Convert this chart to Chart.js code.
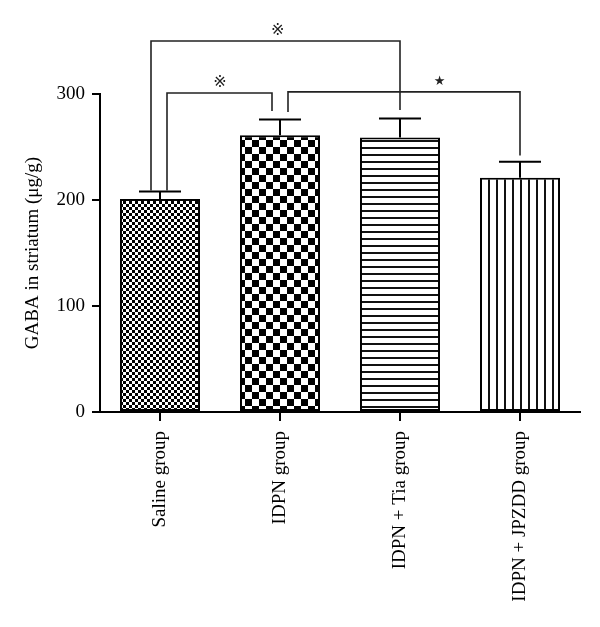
<!DOCTYPE html>
<html>
<head>
<meta charset="utf-8">
<script src="https://cdn.jsdelivr.net/npm/chart.js@4.4.1/dist/chart.umd.min.js"></script>
<style>
  body { margin: 0; background: #fff; }
  #wrap { width: 600px; height: 627px; position: relative; }
</style>
</head>
<body>
<div id="wrap"><canvas id="gabaChart"></canvas></div>
<script>
// data
const groups = ['Saline group', 'IDPN group', 'IDPN + Tia group', 'IDPN + JPZDD group'];
const gabaMean = [201, 261, 259, 221];
const gabaSem = [7, 15, 18, 15];
const yTicks = [0, 100, 200, 300];

// significance brackets: category indexes, top level, leg bottoms, mark
const bracketFrom = [0, 0, 1];
const bracketTo = [2, 1, 3];
const bracketTop = [350, 301, 302];
const bracketLegFrom = [209, 209, 283];
const bracketLegTo = [285, 284, 242];
const bracketMark = ['※', '※', '★'];
const bracketMarkAt = [0.98, 0.5, 2.33];

// pattern fills
function makePattern(kind) {
    const c = document.createElement('canvas');
    const g = c.getContext('2d');
    if (kind === 'fine') {
        c.width = 6; c.height = 6;
        g.fillStyle = '#fff'; g.fillRect(0, 0, 6, 6);
        g.fillStyle = '#000';
        g.fillRect(0, 0, 3, 3); g.fillRect(3, 3, 3, 3);
    } else if (kind === 'coarse') {
        c.width = 14; c.height = 14;
        g.fillStyle = '#fff'; g.fillRect(0, 0, 14, 14);
        g.fillStyle = '#000';
        g.fillRect(0, 0, 7, 7); g.fillRect(7, 7, 7, 7);
    } else if (kind === 'hlines') {
        c.width = 4; c.height = 7;
        g.fillStyle = '#fff'; g.fillRect(0, 0, 4, 7);
        g.fillStyle = '#111'; g.fillRect(0, 0, 4, 2);
    } else {
        c.width = 8; c.height = 4;
        g.fillStyle = '#fff'; g.fillRect(0, 0, 8, 4);
        g.fillStyle = '#111'; g.fillRect(0, 0, 2, 4);
    }
    return g.createPattern(c, 'repeat');
}

// error bars + brackets
const annotate = {
    id: 'annotate',
    afterDatasetsDraw(chart) {
        const ctx = chart.ctx;
        const x = chart.scales.x;
        const y = chart.scales.y;
        ctx.save();
        ctx.strokeStyle = '#000';
        ctx.lineWidth = 2;
        gabaMean.forEach((m, i) => {
            const cx = x.getPixelForValue(i);
            const top = y.getPixelForValue(m);
            const cap = y.getPixelForValue(m + gabaSem[i]);
            ctx.beginPath();
            ctx.moveTo(cx, top);
            ctx.lineTo(cx, cap);
            ctx.moveTo(cx - 21, cap);
            ctx.lineTo(cx + 21, cap);
            // tick under the axis
            ctx.moveTo(cx, y.getPixelForValue(0));
            ctx.lineTo(cx, y.getPixelForValue(0) + 9);
            ctx.stroke();
        });

        const legShift = [[-9, 0], [7, -8], [8, 0]];
        ctx.lineWidth = 1.6;
        ctx.strokeStyle = '#222';
        ctx.fillStyle = '#222';
        ctx.textAlign = 'center';
        ctx.textBaseline = 'middle';
        bracketTop.forEach((lvl, i) => {
            const x1 = x.getPixelForValue(bracketFrom[i]) + legShift[i][0];
            const x2 = x.getPixelForValue(bracketTo[i]) + legShift[i][1];
            const yt = y.getPixelForValue(lvl);
            ctx.beginPath();
            ctx.moveTo(x1, y.getPixelForValue(bracketLegFrom[i]));
            ctx.lineTo(x1, yt);
            ctx.lineTo(x2, yt);
            ctx.lineTo(x2, y.getPixelForValue(bracketLegTo[i]));
            ctx.stroke();
            ctx.font = bracketMark[i] === '★' ? '13px "DejaVu Sans"' : '16px "DejaVu Sans", "Noto Sans CJK SC"';
            ctx.fillText(bracketMark[i], x.getPixelForValue(bracketMarkAt[i]), yt - 10);
        });
        ctx.restore();
    }
};

const serif = { family: '"Liberation Serif", "DejaVu Serif", serif', size: 19 };

new Chart(document.getElementById('gabaChart'), {
    type: 'bar',
    data: {
        labels: groups,
        datasets: [{
            data: gabaMean,
            backgroundColor: [makePattern('fine'), makePattern('coarse'), makePattern('hlines'), makePattern('vlines')],
            borderColor: '#000',
            borderWidth: 2,
            borderSkipped: false,
            barPercentage: 0.667,
            categoryPercentage: 1
        }]
    },
    options: {
        responsive: true,
        maintainAspectRatio: false,
        animation: false,
        layout: { padding: { top: 94, right: 20, left: 0, bottom: 0 } },
        plugins: { legend: { display: false }, tooltip: { enabled: false } },
        scales: {
            x: {
                afterFit: s => { s.height = 215; },
                grid: { display: false },
                border: { display: true, color: '#000', width: 2 },
                ticks: { color: '#000', font: serif, minRotation: 90, maxRotation: 90, padding: 11 }
            },
            y: {
                min: 0,
                max: 300,
                afterFit: s => { s.width = 100; },
                afterBuildTicks: s => { s.ticks = yTicks.map(v => ({ value: v })); },
                grid: { drawOnChartArea: false, drawTicks: true, tickLength: 8, tickColor: '#000', lineWidth: 2 },
                border: { display: true, color: '#000', width: 2 },
                ticks: { color: '#000', font: serif, padding: 7 },
                title: { display: true, text: 'GABA in striatum (μg/g)', color: '#000', font: serif, padding: { top: 22, bottom: 0 } }
            }
        }
    },
    plugins: [annotate]
});
</script>
</body>
</html>
